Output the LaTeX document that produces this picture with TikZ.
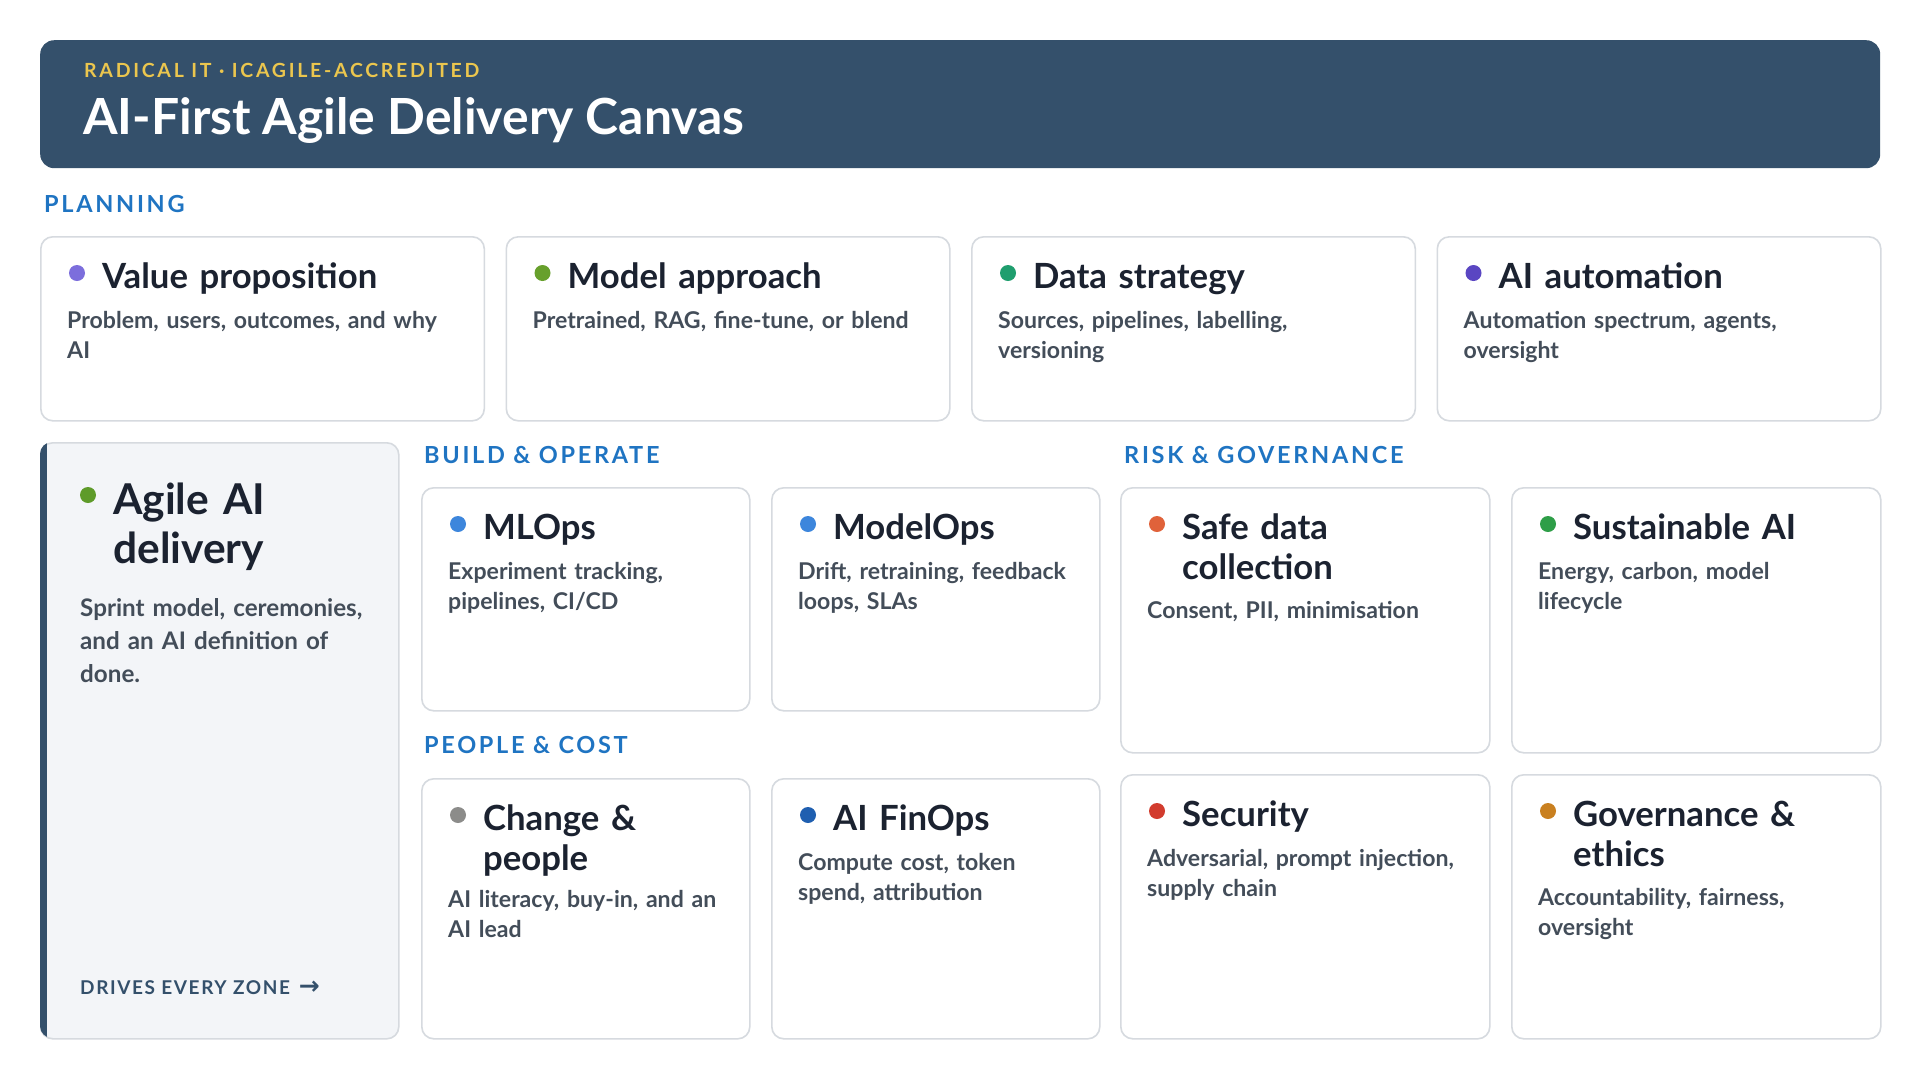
\documentclass[tikz,border=0pt]{standalone}
\usepackage{fontspec}
\setmainfont{Lato}
\newfontfamily\seccaps{Lato}[LetterSpace=11.5]
\newfontfamily\kickcaps{Lato}[LetterSpace=14]
\newfontfamily\drivecaps{Lato}[LetterSpace=8.5]
\newfontfamily\arrowfont{DejaVu Sans}

\definecolor{hdr}{HTML}{34506B}
\definecolor{gold}{HTML}{EBC64E}
\definecolor{secblue}{HTML}{1F74C2}
\definecolor{ink}{HTML}{1B2230}
\definecolor{bodytxt}{HTML}{434D59}
\definecolor{cardline}{HTML}{D6DADF}
\definecolor{panel}{HTML}{F3F5F8}
\definecolor{cLavender}{HTML}{7C6EDC}
\definecolor{cOlive}{HTML}{67A02C}
\definecolor{cTeal}{HTML}{1F9E6E}
\definecolor{cIndigo}{HTML}{5A46C2}
\definecolor{cAgile}{HTML}{5E9B2A}
\definecolor{cBlue}{HTML}{3D86DC}
\definecolor{cOrange}{HTML}{E0623A}
\definecolor{cGreen}{HTML}{2E9E48}
\definecolor{cGray}{HTML}{8C8C8A}
\definecolor{cNavy}{HTML}{1F5FB0}
\definecolor{cRed}{HTML}{D23C2E}
\definecolor{cAmber}{HTML}{C98020}

\newcommand{\cardbox}[9]{%
  \node[card, minimum width=#4pt, minimum height=#5pt] (#1) at (#2,#3) {};
  \node[cdot, fill=#6] (#1-dot) at ({#2+37},{#3+37}) {};
  \node[ttl] (#1-title) at ({#2+62},{#3+52}) {#7};
  \node[dsc] (#1-desc) at ({#2+27},{#3+#9}) {#8};
}

\begin{document}
\begin{tikzpicture}[x=1pt,y=-1pt,
  card/.style={draw=cardline, line width=1.6pt, fill=white, rounded corners=12pt, anchor=north west, inner sep=0pt},
  cdot/.style={circle, inner sep=0pt, minimum size=16pt},
  ttl/.style={anchor=base west, inner sep=0pt, align=left, text width=420pt, text=ink, font=\fontsize{34.7}{40}\selectfont\bfseries},
  dsc/.style={anchor=base west, inner sep=0pt, align=left, text width=420pt, text=bodytxt, font=\fontsize{23.1}{30}\selectfont\bfseries},
  sec/.style={anchor=base west, inner sep=0pt, text=secblue, font=\seccaps\fontsize{23.5}{26}\selectfont\bfseries},
]
\fill[white] (0,0) rectangle (1920,1080);
\useasboundingbox (0,0) rectangle (1920,1080);

% header
\node[fill=hdr, rounded corners=14pt, anchor=north west, inner sep=0pt, minimum width=1840pt, minimum height=128pt] (header) at (40,40) {};
\node[anchor=base west, inner sep=0pt, text=gold, font=\kickcaps\fontsize{19.5}{22}\selectfont\bfseries] (kicker) at (84,77) {RADICAL IT · ICAGILE-ACCREDITED};
\node[anchor=base west, inner sep=0pt, text=white, font=\fontsize{49.8}{60}\selectfont\bfseries] (maintitle) at (83,134) {AI-First Agile Delivery Canvas};

% section labels
\node[sec] (planning) at (44,212) {PLANNING};
\node[sec] (build) at (424,463) {BUILD \& OPERATE};
\node[sec] (risk) at (1124,463) {RISK \& GOVERNANCE};
\node[sec] (people) at (424,753) {PEOPLE \& COST};

% planning row
\cardbox{value}{40}{236}{443.5}{184}{cLavender}{Value proposition}{Problem, users, outcomes, and why\\AI}{92}
\cardbox{model}{505.5}{236}{443.5}{184}{cOlive}{Model approach}{Pretrained, RAG, fine-tune, or blend}{92}
\cardbox{data}{971}{236}{443.5}{184}{cTeal}{Data strategy}{Sources, pipelines, labelling,\\versioning}{92}
\cardbox{auto}{1436.5}{236}{443.5}{184}{cIndigo}{AI automation}{Automation spectrum, agents,\\oversight}{92}

% agile card
\node[card, fill=panel, minimum width=358pt, minimum height=596pt] (agile) at (40,442) {};
\begin{scope}
  \clip[rounded corners=12pt] (40,442) rectangle (398,1038);
  \fill[hdr] (39,441) rectangle (47,1039);
\end{scope}
\node[cdot, fill=cAgile] (agile-dot) at (88,495) {};
\node[ttl, font=\fontsize{42.5}{49}\selectfont\bfseries] (agile-title) at (113,514) {Agile AI\\delivery};
\node[dsc, font=\fontsize{24.2}{33}\selectfont\bfseries] (agile-desc) at (80,616) {Sprint model, ceremonies,\\and an AI definition of\\done.};
\node[anchor=base west, inner sep=0pt, text=hdr, font=\drivecaps\fontsize{19}{21}\selectfont\bfseries] (drives) at (80,994) {DRIVES EVERY ZONE\hspace{9pt}{\arrowfont\fontsize{25}{21}\selectfont →}};

% build & operate
\cardbox{mlops}{421}{487}{328}{223}{cBlue}{MLOps}{Experiment tracking,\\pipelines, CI/CD}{92}
\cardbox{modelops}{771}{487}{328}{223}{cBlue}{ModelOps}{Drift, retraining, feedback\\loops, SLAs}{92}

% people & cost
\cardbox{change}{421}{778}{328}{260}{cGray}{Change \&\\people}{AI literacy, buy-in, and an\\AI lead}{129}
\cardbox{finops}{771}{778}{328}{260}{cNavy}{AI FinOps}{Compute cost, token\\spend, attribution}{92}

% risk & governance
\cardbox{safe}{1120}{487}{369}{265}{cOrange}{Safe data\\collection}{Consent, PII, minimisation}{131}
\cardbox{sustain}{1511}{487}{369}{265}{cGreen}{Sustainable AI}{Energy, carbon, model\\lifecycle}{92}
\cardbox{security}{1120}{774}{369}{264}{cRed}{Security}{Adversarial, prompt injection,\\supply chain}{92}
\cardbox{gov}{1511}{774}{369}{264}{cAmber}{Governance \&\\ethics}{Accountability, fairness,\\oversight}{131}
\end{tikzpicture}
\end{document}
